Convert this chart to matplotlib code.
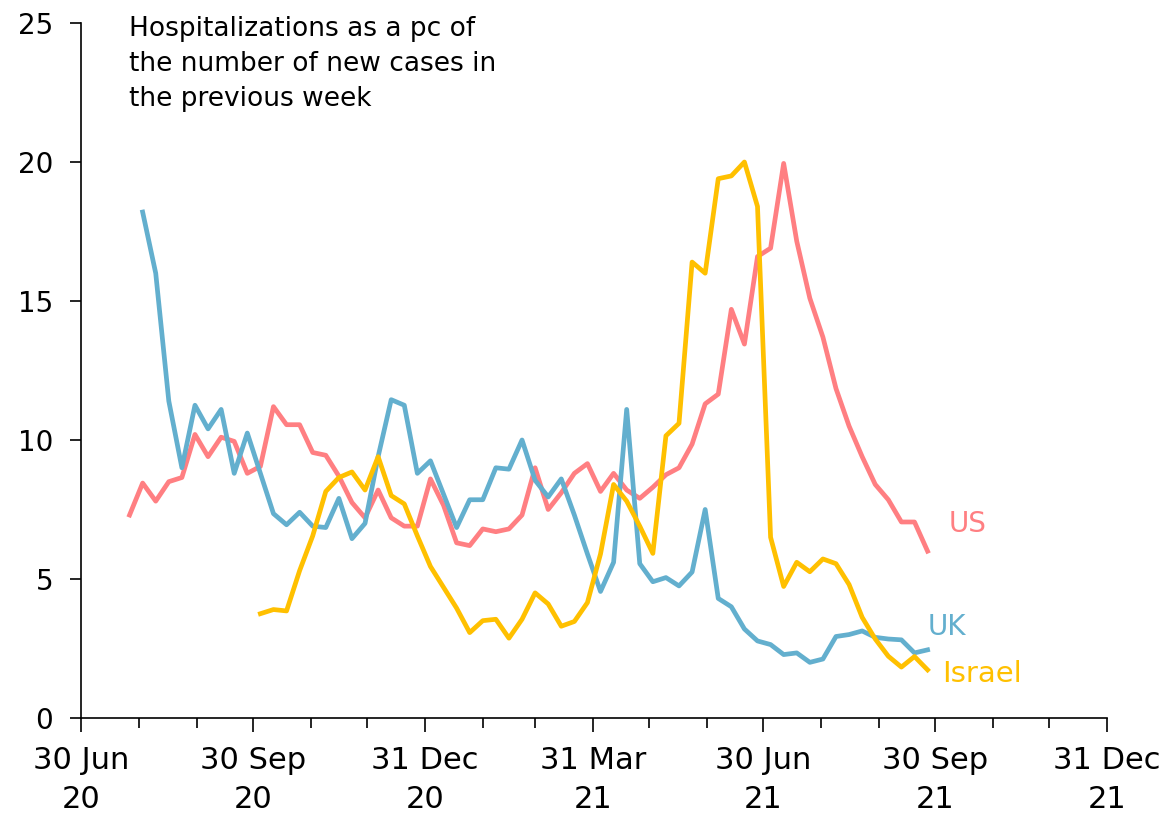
import pandas as pd
import matplotlib
matplotlib.use("Agg")
import matplotlib.pyplot as plt

# weekly series, all ending 26 Sep 2021
us = [7.3, 8.45, 7.8, 8.5, 8.65, 10.2, 9.4, 10.1, 9.95, 8.8,
      9.05, 11.2, 10.55, 10.55, 9.55, 9.45, 8.7, 7.75, 7.2, 8.2,
      7.2, 6.9, 6.9, 8.6, 7.65, 6.3, 6.2, 6.8, 6.7, 6.8,
      7.3, 9.0, 7.5, 8.1, 8.8, 9.15, 8.15, 8.8, 8.2, 7.9,
      8.3, 8.75, 9.0, 9.85, 11.3, 11.65, 14.7, 13.45, 16.6, 16.9,
      19.95, 17.15, 15.1, 13.7, 11.85, 10.5, 9.4, 8.4, 7.85, 7.05,
      7.05, 6.0]
uk = [18.2, 16.0, 11.4, 9.0, 11.25, 10.4, 11.1, 8.8, 10.25, 8.8,
      7.35, 6.95, 7.4, 6.9, 6.85, 7.9, 6.45, 7.0, 9.4, 11.45,
      11.25, 8.8, 9.25, 8.05, 6.85, 7.85, 7.85, 9.0, 8.95, 10.0,
      8.55, 7.95, 8.6, 7.3, 5.9, 4.55, 5.6, 11.1, 5.55, 4.9,
      5.05, 4.75, 5.25, 7.5, 4.3, 4.0, 3.2, 2.77, 2.64, 2.28,
      2.34, 2.0, 2.12, 2.93, 3.0, 3.13, 2.9, 2.84, 2.81, 2.34,
      2.45]
israel = [3.75, 3.9, 3.85, 5.3, 6.55, 8.15, 8.65, 8.85, 8.2, 9.4,
          8.0, 7.7, 6.55, 5.45, 4.7, 3.95, 3.07, 3.5, 3.55, 2.87,
          3.55, 4.5, 4.1, 3.3, 3.47, 4.15, 5.9, 8.4, 7.8, 6.9,
          5.92, 10.15, 10.6, 16.4, 16.0, 19.4, 19.5, 20.0, 18.4, 6.5,
          4.73, 5.6, 5.26, 5.72, 5.55, 4.8, 3.62, 2.84, 2.22, 1.83,
          2.21, 1.73]

end_date = "2021-09-26"
us_dates = pd.date_range(end=end_date, periods=len(us), freq="7D")
uk_dates = pd.date_range(end=end_date, periods=len(uk), freq="7D")
il_dates = pd.date_range(end=end_date, periods=len(israel), freq="7D")

major_dates = pd.to_datetime(["2020-06-30", "2020-09-30", "2020-12-31",
                              "2021-03-31", "2021-06-30", "2021-09-30", "2021-12-31"])
minor_dates = pd.date_range("2020-07-31", "2021-11-30", freq="ME")
tick_labels = ["30 Jun\n20", "30 Sep\n20", "31 Dec\n20", "31 Mar\n21",
               "30 Jun\n21", "30 Sep\n21", "31 Dec\n21"]

red = "#FF7F82"
blue = "#63AFCE"
yellow = "#FFC000"

plt.rcParams['font.family'] = ['DejaVu Sans']

fig = plt.figure(figsize=(11.65, 8.14), dpi=100)
ax = fig.add_axes([0.0695, 0.118, 0.8807, 0.8537])

ax.plot(us_dates, us, color=red, lw=3.4)
ax.plot(uk_dates, uk, color=blue, lw=3.4)
ax.plot(il_dates, israel, color=yellow, lw=3.4)

ax.set_xlim(major_dates[0], major_dates[-1])
ax.set_ylim(0, 25)
ax.set_yticks([0, 5, 10, 15, 20, 25])
ax.set_xticks(major_dates)
ax.set_xticklabels(tick_labels, linespacing=1.45)
ax.set_xticks(minor_dates, minor=True)

for s in ["top", "right"]:
    ax.spines[s].set_visible(False)
for s in ["left", "bottom"]:
    ax.spines[s].set_linewidth(1.2)

ax.tick_params(axis="x", which="major", length=10, width=1.2, labelsize=22, pad=10)
ax.tick_params(axis="x", which="minor", length=7, width=1.2)
ax.tick_params(axis="y", length=8, width=1.2, labelsize=20, pad=12)

ax.text(0.047, 1.01, "Hospitalizations as a pc of\nthe number of new cases in\nthe previous week",
        transform=ax.transAxes, fontsize=19, va="top", ha="left", linespacing=1.45)

ax.text(pd.Timestamp("2021-10-07"), 6.7, "US", color=red, fontsize=20)
ax.text(pd.Timestamp("2021-09-26"), 3.0, "UK", color=blue, fontsize=20)
ax.text(pd.Timestamp("2021-10-04"), 1.3, "Israel", color=yellow, fontsize=21)

fig.savefig("out.png", dpi=100)
